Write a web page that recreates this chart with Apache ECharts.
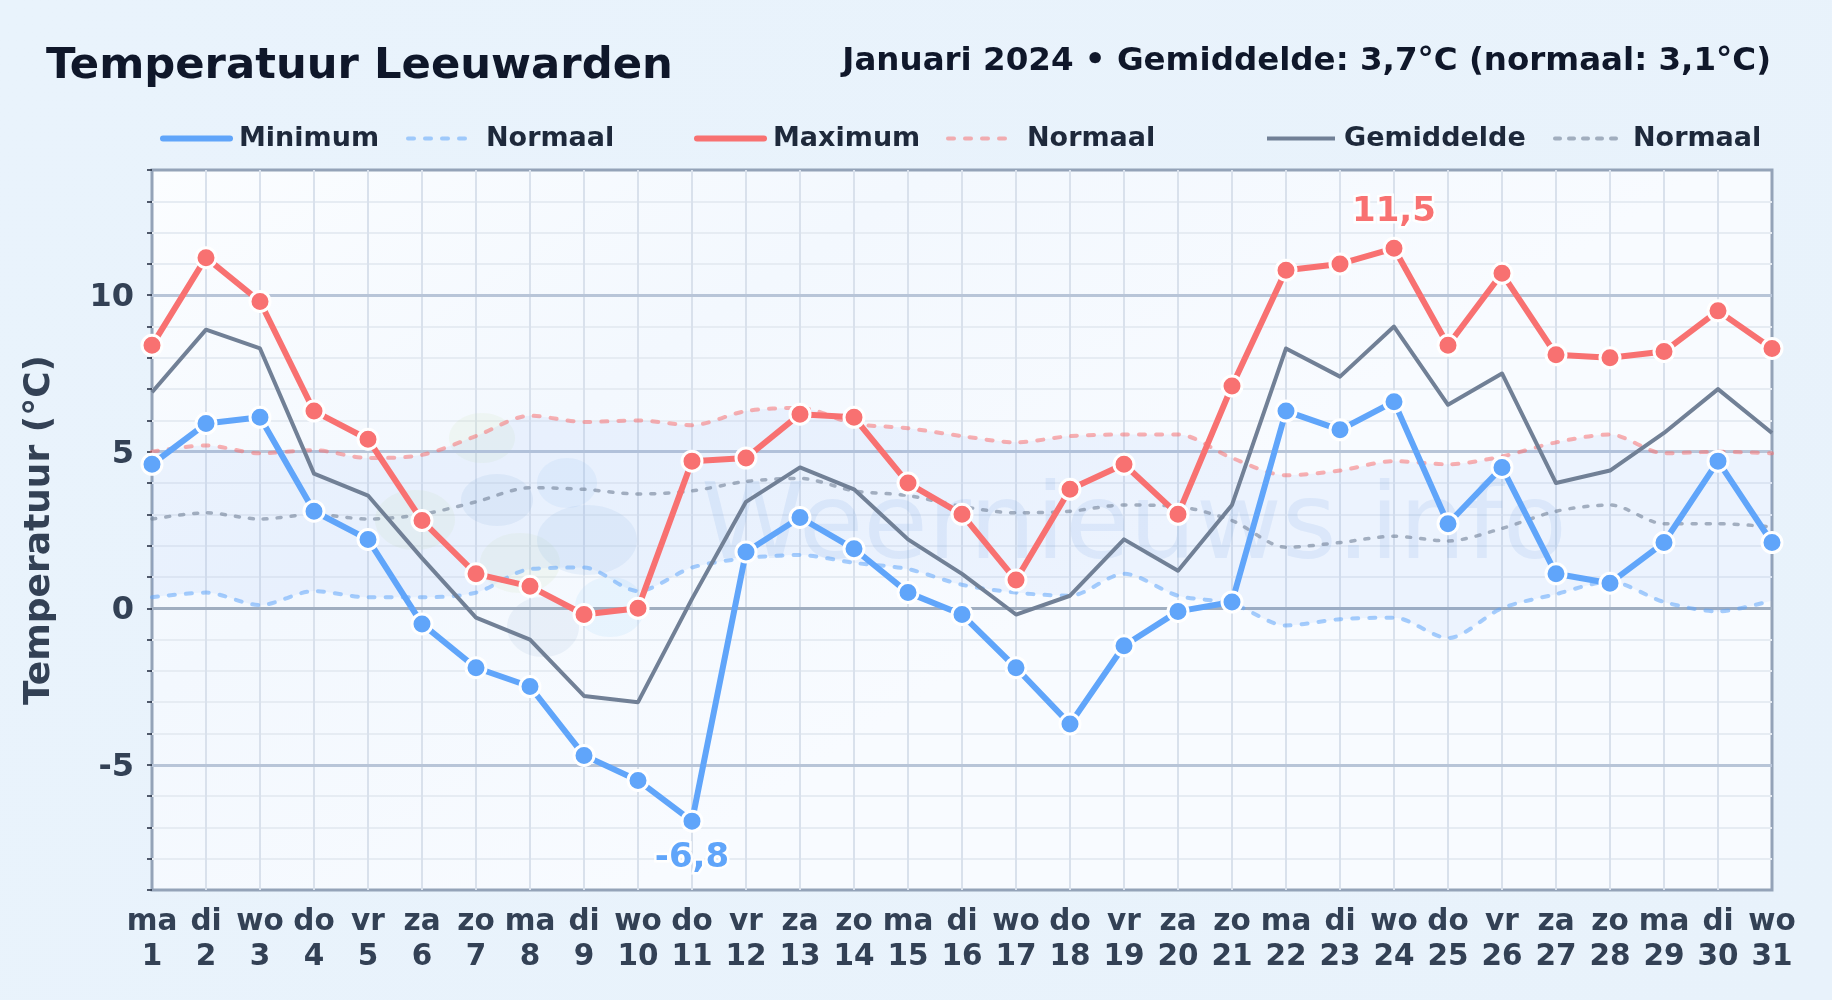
<!DOCTYPE html>
<html>
<head>
<meta charset="utf-8">
<style>html,body{margin:0;padding:0;background:#e9f3fc}#c{width:1832px;height:1000px}</style>
<script src="https://cdn.jsdelivr.net/npm/echarts@6/dist/echarts.min.js"></script>
</head>
<body>
<div id="c"></div>
<script>
const weekdays = ['ma','di','wo','do','vr','za','zo','ma','di','wo','do','vr','za','zo','ma','di','wo','do','vr','za','zo','ma','di','wo','do','vr','za','zo','ma','di','wo'];
const minimum = [4.6,5.9,6.1,3.1,2.2,-0.5,-1.9,-2.5,-4.7,-5.5,-6.8,1.8,2.9,1.9,0.5,-0.2,-1.9,-3.7,-1.2,-0.1,0.2,6.3,5.7,6.6,2.7,4.5,1.1,0.8,2.1,4.7,2.1];
const maximum = [8.4,11.2,9.8,6.3,5.4,2.8,1.1,0.7,-0.2,0.0,4.7,4.8,6.2,6.1,4.0,3.0,0.9,3.8,4.6,3.0,7.1,10.8,11.0,11.5,8.4,10.7,8.1,8.0,8.2,9.5,8.3];
const gemiddelde = [6.9,8.9,8.3,4.3,3.6,1.6,-0.3,-1.0,-2.8,-3.0,0.3,3.4,4.5,3.8,2.2,1.1,-0.2,0.4,2.2,1.2,3.3,8.3,7.4,9.0,6.5,7.5,4.0,4.4,5.6,7.0,5.6];
const normaalMin = [0.35,0.5,0.1,0.55,0.35,0.35,0.5,1.25,1.3,0.55,1.3,1.6,1.7,1.45,1.25,0.75,0.5,0.4,1.1,0.4,0.15,-0.55,-0.35,-0.3,-0.95,0.0,0.45,0.85,0.2,-0.1,0.25];
const normaalMax = [5.0,5.2,4.95,5.05,4.8,4.9,5.5,6.15,5.95,6.0,5.85,6.3,6.4,5.9,5.75,5.5,5.3,5.5,5.55,5.55,4.8,4.25,4.4,4.7,4.6,4.85,5.3,5.55,4.95,5.0,4.95];
const normaalGem = [2.85,3.05,2.85,3.0,2.85,3.0,3.4,3.85,3.8,3.65,3.75,4.05,4.15,3.75,3.6,3.25,3.05,3.1,3.3,3.25,2.8,1.95,2.1,2.3,2.15,2.55,3.1,3.3,2.7,2.7,2.6];
const majorLines = [-5,5,10];
const zeroLine = 0;
const titleText = 'Temperatuur Leeuwarden';
const subtitleText = 'Januari 2024 • Gemiddelde: 3,7°C (normaal: 3,1°C)';
const watermark = 'Weernieuws.info';

const FONT = '"DejaVu Sans"';
const categories = weekdays.map((d,i)=>d+'\n'+(i+1));
const comma = v => String(v).replace('.',',');
const withLabel = (arr, idx, position, color) => arr.map((v,i)=> i!==idx ? v : {
  value:v,
  label:{show:true,position,distance:position==='top'?8:9,formatter:()=>comma(v),fontFamily:FONT,fontWeight:'bold',fontSize:34,color,textBorderColor:'rgba(255,255,255,0.9)',textBorderWidth:5}
});
const dotted = (name,data,color,w,dash)=>({
  name,type:'line',data,smooth:0.3,symbol:'none',z:3,
  lineStyle:{color,width:w,type:dash,cap:'round',join:'round'},itemStyle:{color}
});
const solid = (name,data,color)=>({
  name,type:'line',data,symbol:'circle',symbolSize:20,showAllSymbol:true,z:5,clip:false,
  lineStyle:{color,width:6,cap:'round',join:'round'},
  itemStyle:{color,borderColor:'#fff',borderWidth:3}
});
const blob=(cx,cy,rx,ry,fill)=>({type:'ellipse',silent:true,z:1,shape:{cx,cy,rx,ry},style:{fill}});
const NAMES = {min:'Minimum',nmin:'Normaal (min)',max:'Maximum',nmax:'Normaal (max)',gem:'Gemiddelde',ngem:'Normaal (gem)'};
const leg=(name,left,itemWidth,gap,lineStyle)=>({
  data:[name],left,top:125,itemWidth,itemHeight:24,selectedMode:false,padding:0,
  itemStyle:{opacity:0},lineStyle,
  formatter:n=>n.replace(/ \(.*\)/,''),
  textStyle:{fontFamily:FONT,fontWeight:'bold',fontSize:27,color:'#1e293b',padding:[0,0,0,gap]}
});

const chart = echarts.init(document.getElementById('c'));
chart.setOption({
  animation:false,
  backgroundColor:{type:'linear',x:0,y:0,x2:1,y2:1,colorStops:[{offset:0,color:'#e9f3fc'},{offset:1,color:'#e8f2fb'}]},
  title:[
    {text:titleText,left:46,top:45,padding:0,textStyle:{fontFamily:FONT,fontWeight:'bold',fontSize:43.3,color:'#0f172a'}},
    {text:subtitleText,right:61,top:45,padding:0,textStyle:{fontFamily:FONT,fontWeight:'bold',fontSize:32.5,color:'#0f172a'}}
  ],
  legend:[
    leg(NAMES.min,160,67,4,{width:6,cap:'round'}),
    leg(NAMES.nmin,406,58,15,{width:4,type:[6,11],cap:'round'}),
    leg(NAMES.max,694,67,4,{width:6,cap:'round'}),
    leg(NAMES.nmax,946,58,16,{width:4,type:[6,11],cap:'round'}),
    leg(NAMES.gem,1265,68,4,{width:4}),
    leg(NAMES.ngem,1553,65,8,{width:4,type:[5,9],cap:'round'})
  ],
  grid:{left:152,right:60,top:170,bottom:110,containLabel:false,show:true,borderWidth:3,borderColor:'#94a3b8',
    backgroundColor:{type:'linear',x:0,y:0,x2:0.3,y2:1,colorStops:[{offset:0,color:'#fbfdff'},{offset:0.5,color:'#f3f8fe'},{offset:1,color:'#f8fbff'}]}},
  xAxis:{type:'category',boundaryGap:false,data:categories,
    axisLine:{show:false},axisTick:{show:false},
    splitLine:{show:true,showMinLine:false,showMaxLine:false,lineStyle:{color:'#d9e1ec',width:2}},
    axisLabel:{interval:0,margin:15,fontFamily:FONT,fontWeight:'bold',fontSize:29.5,lineHeight:35,color:'#334155'}},
  yAxis:{type:'value',min:-9,max:14,interval:1,
    name:'Temperatuur (°C)',nameLocation:'middle',nameGap:94,nameRotate:90,
    nameTextStyle:{fontFamily:FONT,fontWeight:'bold',fontSize:36,color:'#334155'},
    axisLine:{show:false},axisTick:{show:true,length:5,lineStyle:{color:'#1e293b',width:1.5}},
    splitLine:{show:true,showMinLine:false,showMaxLine:false,lineStyle:{color:'#e6ecf3',width:2}},
    axisLabel:{margin:18,fontFamily:FONT,fontWeight:'bold',fontSize:32,color:'#334155',
      formatter:v=>(v%5===0?'{a|'+v+'}':''),
      rich:{a:{padding:[5,0,0,0],fontFamily:FONT,fontWeight:'bold',fontSize:32,color:'#334155'}}}},
  graphic:[
    blob(482,438,33,25,'rgba(205,225,175,0.14)'),
    blob(415,520,40,30,'rgba(205,225,175,0.14)'),
    blob(520,563,40,30,'rgba(205,225,175,0.14)'),
    blob(497,500,36,26,'rgba(130,170,215,0.13)'),
    blob(567,483,30,25,'rgba(140,190,240,0.12)'),
    blob(587,540,50,35,'rgba(130,175,225,0.13)'),
    blob(610,607,35,30,'rgba(170,215,250,0.18)'),
    blob(543,627,36,30,'rgba(140,170,205,0.12)'),
    {type:'text',silent:true,z:1,left:701,top:478,style:{text:watermark,fontFamily:FONT,fontSize:105,fontWeight:'normal',fill:'rgba(120,170,225,0.15)',shadowColor:'rgba(120,170,225,0.22)',shadowBlur:5}}
  ],
  series:[
    {name:'bandBase',type:'line',data:normaalMin,stack:'band',stackStrategy:'all',smooth:0.3,symbol:'none',lineStyle:{opacity:0},z:2,
      markLine:{silent:true,z:2,symbol:'none',label:{show:false},animation:false,
        data:[...majorLines.map(v=>({yAxis:v,lineStyle:{color:'#b8c5d8',width:3,type:'solid'}})),
              {yAxis:zeroLine,lineStyle:{color:'#a0aec0',width:3,type:'solid'}}]}},
    {name:'bandFill',type:'line',data:normaalMax.map((v,i)=>v-normaalMin[i]),stack:'band',stackStrategy:'all',smooth:0.3,symbol:'none',lineStyle:{opacity:0},z:2,
      areaStyle:{color:'rgba(96,150,240,0.11)'}},
    dotted(NAMES.nmin,normaalMin,'rgba(96,165,250,0.55)',4,[6,11]),
    dotted(NAMES.nmax,normaalMax,'rgba(248,113,113,0.55)',4,[6,11]),
    dotted(NAMES.ngem,normaalGem,'rgba(113,128,150,0.6)',3.5,[4,10]),
    {name:NAMES.gem,type:'line',data:gemiddelde,symbol:'none',z:4,lineStyle:{color:'#718096',width:4,join:'round'},itemStyle:{color:'#718096'}},
    solid(NAMES.min,withLabel(minimum,minimum.indexOf(Math.min(...minimum)),'bottom','#60a5fa'),'#60a5fa'),
    solid(NAMES.max,withLabel(maximum,maximum.indexOf(Math.max(...maximum)),'top','#f87171'),'#f87171')
  ]
});
</script>
</body>
</html>
